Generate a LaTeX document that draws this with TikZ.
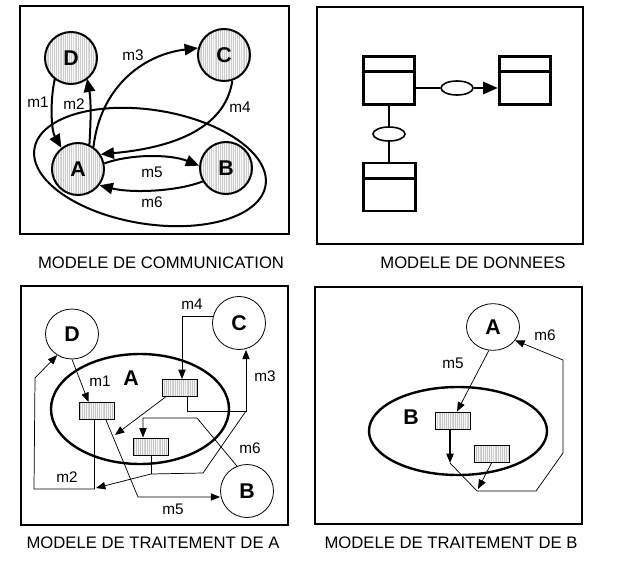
\documentclass[tikz,border=0pt]{standalone}
\usepackage{fontspec}
\setmainfont{Liberation Sans}
\usetikzlibrary{arrows.meta,shapes.geometric,patterns.meta,calc}
\begin{document}
\begin{tikzpicture}[x=0.75pt,y=-0.75pt,
  frame/.style={draw,line width=0.8pt},
  hcirc/.style={circle,draw,line width=1.5pt,minimum size=39pt,inner sep=0pt,
     preaction={fill=gray!6},pattern={Lines[angle=90,distance=1.4pt,line width=0.25pt]},pattern color=gray!40,
     font=\fontsize{16}{16}\selectfont\bfseries},
  tcirc/.style={ellipse,draw,line width=0.6pt,inner sep=0pt,font=\fontsize{16}{16}\selectfont\bfseries},
  hrect/.style={rectangle,draw,line width=0.5pt,minimum width=26.5pt,minimum height=13pt,inner sep=0pt,
     preaction={fill=gray!8},pattern={Lines[angle=90,distance=1.4pt,line width=0.25pt]},pattern color=gray!45},
  ent/.style={rectangle,draw,line width=2.2pt,minimum width=38.5pt,minimum height=36pt,inner sep=0pt},
  rel/.style={ellipse,draw,line width=1.2pt,minimum width=24pt,minimum height=10.5pt,inner sep=0pt},
  bigell/.style={ellipse,draw,inner sep=0pt},
  lbl/.style={font=\fontsize{11.5}{12}\selectfont},
  bl/.style={font=\fontsize{16}{16}\selectfont\bfseries},
  ttl/.style={font=\fontsize{12.5}{14}\selectfont},
  a1/.style={-{Triangle[length=10pt,width=8.5pt]},line width=1.5pt},
  a2/.style={-{Triangle[length=11pt,width=9pt]},line width=2pt},
  a3/.style={-{Triangle[length=7pt,width=5.5pt]},line width=0.55pt},
  ln3/.style={line width=0.55pt}]
\useasboundingbox (0,0) rectangle (631,573);

% ---------------- Panel 1: communication ----------------
\node[frame,rectangle,minimum width=201.75pt,minimum height=171pt,inner sep=0pt] (F1) at (154.5,120) {};
\node[bigell,line width=1.5pt,minimum width=175.5pt,minimum height=85.5pt,rotate=-9] (E1) at (150,167) {};
\node[hcirc] (D) at (71,58) {D};
\node[hcirc] (C) at (224,55) {C};
\node[hcirc] (A) at (78,169) {A};
\node[hcirc] (B) at (226,168) {B};
\draw[a1] (D.-128) .. controls (50,100) and (51,130) .. (A.128);
\draw[a1] (A.65) .. controls (91,120) and (91,100) .. (D.-52);
\draw[a1] (A.55) .. controls (100,90) and (140,55) .. (C.165);
\draw[a1] (C.-72) .. controls (225,130) and (170,148) .. (A.33);
\draw[a1] (A.12) .. controls (130,154) and (170,154) .. (B.175);
\draw[a1] (B.-150) .. controls (175,192) and (130,193) .. (A.-37);
\node[lbl] (l1) at (38,102) {m1};
\node[lbl] (l2) at (74,104) {m2};
\node[lbl] (l3) at (133,55) {m3};
\node[lbl] (l4) at (240,107) {m4};
\node[lbl] (l5) at (152,172) {m5};
\node[lbl] (l6) at (152,202) {m6};
\node[ttl] (T1) at (161,263) {MODELE DE COMMUNICATION};

% ---------------- Panel 2: data ----------------
\node[frame,rectangle,minimum width=199.5pt,minimum height=177.75pt,inner sep=0pt] (F2) at (450,125.5) {};
\node[ent] (E2a) at (389,80.5) {};
\node[ent] (E2b) at (525,80.5) {};
\node[ent] (E2c) at (389.5,187) {};
\foreach \e in {E2a,E2b,E2c}
  \draw[line width=2.2pt] ([yshift=-12.6pt]\e.north west) -- ([yshift=-12.6pt]\e.north east);
\node[rel] (R1) at (457,88) {};
\node[rel] (R2) at (389,134) {};
\draw[line width=2pt] (E2a.east |- R1.west) -- (R1.west);
\draw[a2] (R1.east) -- (E2b.west |- R1.east);
\draw[line width=2pt] (E2a.south -| R2.north) -- (R2.north);
\draw[line width=2pt] (R2.south) -- (E2c.north -| R2.south);
\node[ttl] (T2) at (473,263) {MODELE DE DONNEES};

% ---------------- Panel 3: treatment of A ----------------
\node[frame,rectangle,minimum width=200.25pt,minimum height=179.25pt,inner sep=0pt] (F3) at (154.5,405.5) {};
\node[bigell,line width=1.8pt,minimum width=133.5pt,minimum height=82.5pt] (EA) at (140,409) {};
\node[tcirc,minimum width=39.75pt,minimum height=37.5pt] (D3) at (72,334) {D};
\node[tcirc,minimum width=39.75pt,minimum height=39.75pt] (C3) at (239,323) {C};
\node[tcirc,minimum width=39.75pt,minimum height=39.75pt] (B3) at (247,491) {B};
\node[bl] (LA) at (131,378) {A};
\node[hrect] (P1) at (96.5,411) {};
\node[hrect] (P2) at (179.5,388) {};
\node[hrect] (P3) at (151,446.5) {};
\coordinate (k3) at (246,411);
\coordinate (k4) at (203,473);
\coordinate (k5) at (151,474);
\coordinate (j1) at (94.5,489);
\coordinate (j2) at (34,489);
\coordinate (j3) at (35,378);
\coordinate (j4) at (96,488);
\coordinate (j5) at (115,435);
\coordinate (j6) at (197,418);
\coordinate (j7) at (138,497);
% m1
\draw[a3] (D3.-90) -- ($(P1.north west)+(10,0)$);
% m4
\draw[a3] (C3.165) -| ($(P2.north)+(2.5,0)$);
% m3
\draw[a3] ($(P2.south)+(7.5,0)$) |- (k3) -- (k3 |- C3.south);
% m2
\draw[a3] ($(P1.south)+(-2,0)$) -- (j1) -- (j2) -- (j3) -- (D3.-125);
\draw[ln3] (k3) -- (k4) -- (k5);
\draw[ln3] (P3.south) -- (k5);
\draw[a3] (k5) -- (j4);
% internal
\draw[a3] ($(P2.south west)+(4,0)$) -- (j5);
% m6
\draw[a3] (B3.112) -- (j6) -| ($(P3.north)+(-8,0)$);
% m5
\draw[a3] ($(P1.south)+(9.5,0)$) -- (j7) -- (B3.west |- j7);
\node[lbl] (n1) at (100,381) {m1};
\node[lbl] (n4) at (192,304) {m4};
\node[lbl] (n3) at (265,376) {m3};
\node[lbl] (n6) at (250,448) {m6};
\node[lbl] (n2) at (67,477) {m2};
\node[lbl] (n5) at (173,509) {m5};
\node[ttl] (T3) at (153,543) {MODELE DE TRAITEMENT DE A};

% ---------------- Panel 4: treatment of B ----------------
\node[frame,rectangle,minimum width=200.25pt,minimum height=177.75pt,inner sep=0pt] (F4) at (448.5,405.5) {};
\node[bigell,line width=1.8pt,minimum width=133.5pt,minimum height=66pt] (EB) at (458,431) {};
\node[tcirc,minimum width=39.75pt,minimum height=35pt] (A4) at (493,327) {A};
\node[bl] (LB) at (411,417) {B};
\node[hrect] (Q1) at (453,420.5) {};
\node[hrect] (Q2) at (491.5,454) {};
\coordinate (b1) at (450,463);
\coordinate (b2) at (477,491);
\coordinate (b3) at (536,491);
\coordinate (b4) at (563,453);
\coordinate (b5) at (563,360);
\coordinate (b6) at (478,489);
\draw[a3] (A4.-100) -- ($(Q1.north)+(4,0)$);
\draw[a3,line width=0.9pt] (Q1.south -| b1) -- (b1);
\draw[ln3] (b1) -- (b2) -- (b3) -- (b4) -- (b5);
\draw[a3] (b5) -- (A4.-31);
\draw[a3] (Q2.south) -- (b6);
\node[lbl] (o5) at (453,363) {m5};
\node[lbl] (o6) at (545,335) {m6};
\node[ttl] (T4) at (451,543) {MODELE DE TRAITEMENT DE B};
\end{tikzpicture}
\end{document}
